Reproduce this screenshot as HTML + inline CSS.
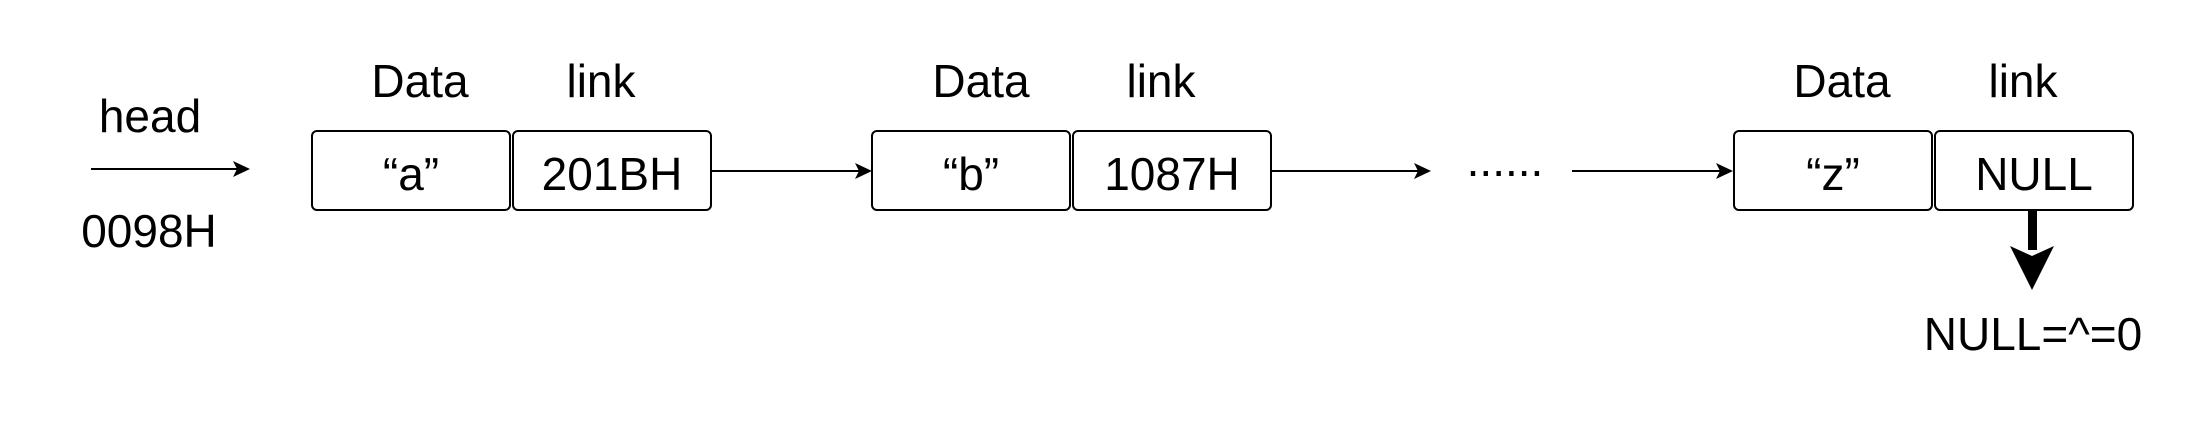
<!DOCTYPE html>
<html><head><meta charset="utf-8"><style>
html,body{margin:0;padding:0;background:#fff;}
svg{display:block;}
text{font-family:"Liberation Sans",Arial,sans-serif;font-size:46px;fill:#000;text-anchor:middle;}
</style></head><body>
<svg width="2198" height="422" viewBox="0 0 2198 422" xmlns="http://www.w3.org/2000/svg">
<g fill="none" stroke="#000" stroke-width="2">
<rect x="312" y="131" width="198" height="79" rx="5"/>
<rect x="513" y="131" width="198" height="79" rx="5"/>
<rect x="872" y="131" width="198" height="79" rx="5"/>
<rect x="1073" y="131" width="198" height="79" rx="5"/>
<rect x="1734" y="131" width="198" height="79" rx="5"/>
<rect x="1935" y="131" width="198" height="79" rx="5"/>
<line x1="91" y1="169" x2="238" y2="169"/>
<line x1="711" y1="171" x2="860" y2="171"/>
<line x1="1271" y1="171" x2="1419" y2="171"/>
<line x1="1572" y1="171" x2="1721" y2="171"/>
</g>
<g fill="#000">
<path d="M250 169 L233 177 L237 169 L233 161 Z"/>
<path d="M872 171 L855 179 L859 171 L855 163 Z"/>
<path d="M1431 171 L1414 179 L1418 171 L1414 163 Z"/>
<path d="M1733 171 L1716 179 L1720 171 L1716 163 Z"/>
<rect x="2028" y="210" width="9" height="40"/>
<path d="M2032 290 L2010 246 L2032 256 L2054 246 Z"/>
</g>
<text x="150" y="132">head</text>
<text x="149" y="247">0098H</text>
<text x="420" y="97">Data</text>
<text x="601" y="97">link</text>
<text x="981" y="97">Data</text>
<text x="1161" y="97">link</text>
<text x="1842" y="97">Data</text>
<text x="2023" y="97">link</text>
<text x="411" y="190">“a”</text>
<text x="612" y="190">201BH</text>
<text x="971" y="190">“b”</text>
<text x="1172" y="190">1087H</text>
<text x="1833" y="190">“z”</text>
<text x="2034" y="190">NULL</text>
<text x="1505" y="176">......</text>
<text x="2033" y="350">NULL=^=0</text>
</svg>
</body></html>
